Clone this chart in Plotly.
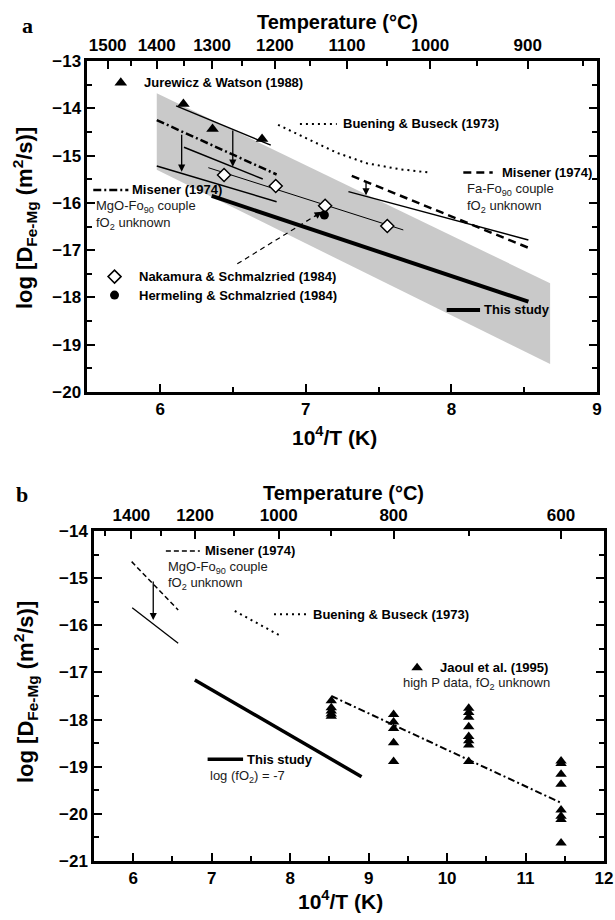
import plotly.graph_objects as go

W, H = 615, 920

# ---------------- Panel a data ----------------
band_x = [5.977, 8.678, 8.678, 5.977]
band_y = [-13.68, -17.70, -19.41, -15.30]

jw_x = [6.16, 6.36, 6.70]
jw_y = [-13.91, -14.44, -14.65]
jw_fit_x = [6.11, 6.76]
jw_fit_y = [-13.95, -14.78]

misA_dd_x = [5.977, 6.80]
misA_dd_y = [-14.25, -15.40]
misA_mid_x = [6.164, 6.705]
misA_mid_y = [-14.825, -15.495]
misA_low_x = [5.977, 6.80]
misA_low_y = [-15.22, -15.975]

nak_fit_x = [6.331, 7.67]
nak_fit_y = [-15.256, -16.573]
nak_x = [6.439, 6.794, 7.133, 7.56]
nak_y = [-15.41, -15.643, -16.06, -16.49]
her_x = [7.128]
her_y = [-16.256]

bbA_x = [6.81, 6.96, 7.213, 7.419, 7.648, 7.854]
bbA_y = [-14.35, -14.565, -14.94, -15.163, -15.29, -15.36]

misFa_dash_x = [7.316, 8.529]
misFa_dash_y = [-15.43, -16.95]
misFa_sol_x = [7.293, 8.529]
misFa_sol_y = [-15.763, -16.784]

studyA_x = [6.354, 8.529]
studyA_y = [-15.854, -18.09]

arrowsA_x = [6.148, 6.499, 7.414]
arrowsA_from = [-14.53, -14.44, -15.53]
arrowsA_to = [-15.34, -15.235, -15.84]

dashArrow_x = [6.53, 7.11]
dashArrow_y = [-17.29, -16.19]

tempA_major = [1500, 1400, 1300, 1200, 1100, 1000, 900]
tempA_minor = [1450, 1350, 1250, 1150, 1050, 950, 850]
yA_ticks = [-20, -19, -18, -17, -16, -15, -14, -13]
xA_ticks = [6, 7, 8, 9]

# ---------------- Panel b data ----------------
misB_dash_x = [5.98, 6.573]
misB_dash_y = [-14.65, -15.676]
misB_sol_x = [5.987, 6.573]
misB_sol_y = [-15.627, -16.382]
arrowsB_x = [6.255]
arrowsB_from = [-15.04]
arrowsB_to = [-15.89]

bbB_x = [7.294, 7.857]
bbB_y = [-15.697, -16.206]

studyB_x = [6.785, 8.91]
studyB_y = [-17.161, -19.212]

jaoul_fit_x = [8.524, 11.45]
jaoul_fit_y = [-17.50, -19.764]

jaoul_T = [900] * 5 + [800] * 5 + [700] * 8 + [600] * 8
jaoul_y = [-17.6, -17.75, -17.82, -17.88, -17.93,
           -17.89, -18.05, -18.19, -18.49, -18.89,
           -17.76, -17.85, -17.95, -18.15, -18.36, -18.45, -18.54, -18.89,
           -18.88, -18.93, -19.16, -19.37, -19.92, -20.05, -20.12, -20.62]

tempB_major = [1400, 1200, 1000, 800, 600]
tempB_minor = [1500, 1300, 1100, 900, 700]
yB_ticks = [-21, -20, -19, -18, -17, -16, -15, -14]
xB_ticks = [6, 7, 8, 9, 10, 11, 12]


def inv_t(tc):
    return 1e4 / (tc + 273.15)


def blabel(v):
    s = ("\u2212" + str(abs(v))) if v < 0 else str(v)
    return "<b>" + s + "</b>"


FONT = "Liberation Sans, Arial, Helvetica, sans-serif"
SERIF = "Liberation Serif, Times New Roman, serif"
BLACK = "black"

fig = go.Figure()

def add_line(x, y, xa, ya, width=1.5, dash="solid"):
    fig.add_trace(go.Scatter(x=x, y=y, mode="lines", xaxis=xa, yaxis=ya,
                             line=dict(color=BLACK, width=width, dash=dash),
                             hoverinfo="skip", showlegend=False))

# ---- panel a ----
fig.add_trace(go.Scatter(x=band_x, y=band_y, fill="toself", mode="lines",
                         fillcolor="#c9c9c9", line=dict(width=0),
                         xaxis="x", yaxis="y", showlegend=False, hoverinfo="skip"))
add_line(jw_fit_x, jw_fit_y, "x", "y", 1.5)
add_line(misA_dd_x, misA_dd_y, "x", "y", 2.5, "8px,3px,2px,3px")
add_line(misA_mid_x, misA_mid_y, "x", "y", 1.5)
add_line(misA_low_x, misA_low_y, "x", "y", 1.5)
add_line(nak_fit_x, nak_fit_y, "x", "y", 1)
add_line(bbA_x, bbA_y, "x", "y", 2, "2px,4px")
add_line(misFa_dash_x, misFa_dash_y, "x", "y", 2.5, "8px,5px")
add_line(misFa_sol_x, misFa_sol_y, "x", "y", 1.5)
add_line(studyA_x, studyA_y, "x", "y", 4)
add_line(dashArrow_x, dashArrow_y, "x", "y", 1.2, "5px,4px")

fig.add_trace(go.Scatter(x=jw_x, y=jw_y, mode="markers", xaxis="x", yaxis="y",
                         marker=dict(symbol="triangle-up", size=11, color=BLACK),
                         showlegend=False))
fig.add_trace(go.Scatter(x=nak_x, y=nak_y, mode="markers", xaxis="x", yaxis="y",
                         marker=dict(symbol="diamond", size=10, color="white",
                                     line=dict(color=BLACK, width=1.5)),
                         showlegend=False))
fig.add_trace(go.Scatter(x=her_x, y=her_y, mode="markers", xaxis="x", yaxis="y",
                         marker=dict(symbol="circle", size=9, color=BLACK),
                         showlegend=False))
# legend markers panel a
fig.add_trace(go.Scatter(x=[5.73], y=[-13.46], mode="markers", xaxis="x", yaxis="y",
                         marker=dict(symbol="triangle-up", size=11, color=BLACK), showlegend=False))
fig.add_trace(go.Scatter(x=[5.687], y=[-17.56], mode="markers", xaxis="x", yaxis="y",
                         marker=dict(symbol="diamond", size=10, color="white",
                                     line=dict(color=BLACK, width=1.5)), showlegend=False))
fig.add_trace(go.Scatter(x=[5.687], y=[-17.95], mode="markers", xaxis="x", yaxis="y",
                         marker=dict(symbol="circle", size=9, color=BLACK), showlegend=False))
fig.add_trace(go.Scatter(x=[None], y=[None], xaxis="x2", yaxis="y", showlegend=False))

# ---- panel b ----
add_line(misB_dash_x, misB_dash_y, "x3", "y3", 1.5, "5px,3px")
add_line(misB_sol_x, misB_sol_y, "x3", "y3", 1.3)
add_line(bbB_x, bbB_y, "x3", "y3", 2, "2px,4px")
add_line(studyB_x, studyB_y, "x3", "y3", 3.5)
add_line(jaoul_fit_x, jaoul_fit_y, "x3", "y3", 2, "7px,3px,2px,3px")
fig.add_trace(go.Scatter(x=[inv_t(t) for t in jaoul_T], y=jaoul_y, mode="markers",
                         xaxis="x3", yaxis="y3",
                         marker=dict(symbol="triangle-up", size=10, color=BLACK),
                         showlegend=False))
fig.add_trace(go.Scatter(x=[9.618], y=[-16.9], mode="markers", xaxis="x3", yaxis="y3",
                         marker=dict(symbol="triangle-up", size=10, color=BLACK), showlegend=False))
fig.add_trace(go.Scatter(x=[None], y=[None], xaxis="x4", yaxis="y3", showlegend=False))

# ---- axes ----
common = dict(showline=True, linewidth=2.5, linecolor=BLACK, ticks="inside",
              tickwidth=2, ticklen=8, tickcolor=BLACK, showgrid=False,
              zeroline=False, automargin=False,
              tickfont=dict(family=FONT, size=17, color=BLACK))
minor_common = dict(ticks="inside", ticklen=5, tickwidth=2, tickcolor=BLACK, showgrid=False)

domA_x = [87.3 / W, 597 / W]
domA_y = [1 - 392 / H, 1 - 61 / H]
domB_x = [94 / W, 604 / W]
domB_y = [1 - 861 / H, 1 - 531 / H]

fig.update_layout(
    xaxis=dict(common, domain=domA_x, range=[5.5, 9], anchor="y",
               tickvals=xA_ticks, ticktext=[blabel(v) for v in xA_ticks],
               minor=dict(minor_common, dtick=0.5, tick0=5.5)),
    xaxis2=dict(common, domain=domA_x, range=[5.5, 9], anchor="y", overlaying="x",
                side="top", tickvals=[inv_t(t) for t in tempA_major],
                ticktext=[blabel(t) for t in tempA_major],
                minor=dict(minor_common, tickvals=[inv_t(t) for t in tempA_minor])),
    yaxis=dict(common, domain=domA_y, range=[-20, -13], anchor="x", mirror="ticks",
               tickvals=yA_ticks, ticktext=[blabel(v) for v in yA_ticks],
               minor=dict(minor_common, dtick=0.5, tick0=0)),
    xaxis3=dict(common, domain=domB_x, range=[5.5, 12], anchor="y3",
                tickvals=xB_ticks, ticktext=[blabel(v) for v in xB_ticks],
                minor=dict(minor_common, dtick=0.5, tick0=5.5)),
    xaxis4=dict(common, domain=domB_x, range=[5.5, 12], anchor="y3", overlaying="x3",
                side="top", tickvals=[inv_t(t) for t in tempB_major],
                ticktext=[blabel(t) for t in tempB_major],
                minor=dict(minor_common, tickvals=[inv_t(t) for t in tempB_minor])),
    yaxis3=dict(common, domain=domB_y, range=[-21, -14], anchor="x3", mirror="ticks",
                tickvals=yB_ticks, ticktext=[blabel(v) for v in yB_ticks],
                minor=dict(minor_common, dtick=0.5, tick0=0)),
)

shapes = []
def legline(x0, x1, y, xr, yr, width, dash):
    shapes.append(dict(type="line", x0=x0, x1=x1, y0=y, y1=y, xref=xr, yref=yr,
                       line=dict(color=BLACK, width=width, dash=dash)))

legline(6.96, 7.213, -14.33, "x", "y", 2, "2px,4px")
legline(5.541, 5.782, -15.727, "x", "y", 2.5, "8px,3px,2px,3px")
legline(8.082, 8.284, -15.36, "x", "y", 2.5, "8px,5px")
legline(7.968, 8.197, -18.264, "x", "y", 4, "solid")
legline(6.416, 6.849, -14.424, "x3", "y3", 1.5, "5px,3px")
legline(7.794, 8.206, -15.767, "x3", "y3", 2, "2px,4px")
legline(6.948, 7.40, -18.843, "x3", "y3", 3.5, "solid")

annots = []
def txt(x, y, s, xr, yr, bold=True, size=13):
    annots.append(dict(x=x, y=y, xref=xr, yref=yr,
                       text=("<b>" + s + "</b>") if bold else s, showarrow=False,
                       xanchor="left", yanchor="middle",
                       font=dict(family=FONT, size=size, color=BLACK if bold else "#1a1a1a")))

txt(5.874, -13.46, "Jurewicz & Watson (1988)", "x", "y")
txt(7.24, -14.33, "Buening & Buseck (1973)", "x", "y")
txt(5.793, -15.727, "Misener (1974)", "x", "y")
txt(5.546, -16.08, "MgO-Fo<sub>90</sub> couple", "x", "y", False)
txt(5.546, -16.43, "fO<sub>2</sub> unknown", "x", "y", False)
txt(8.334, -15.36, "Misener (1974)", "x", "y")
txt(8.094, -15.727, "Fa-Fo<sub>90</sub> couple", "x", "y", False)
txt(8.094, -16.08, "fO<sub>2</sub> unknown", "x", "y", False)
txt(5.838, -17.56, "Nakamura & Schmalzried (1984)", "x", "y")
txt(5.838, -17.95, "Hermeling & Schmalzried (1984)", "x", "y")
txt(8.209, -18.264, "This study", "x", "y")

txt(6.89, -14.424, "Misener (1974)", "x3", "y3")
txt(6.416, -14.77, "MgO-Fo<sub>90</sub> couple", "x3", "y3", False)
txt(6.416, -15.11, "fO<sub>2</sub> unknown", "x3", "y3", False)
txt(8.27, -15.767, "Buening & Buseck (1973)", "x3", "y3")
txt(9.88, -16.9, "Jaoul et al. (1995)", "x3", "y3")
txt(9.415, -17.23, "high P data, fO<sub>2</sub> unknown", "x3", "y3", False)
txt(7.42, -18.843, "This study", "x3", "y3")
txt(6.948, -19.197, "log (fO<sub>2</sub>) = -7", "x3", "y3", False)

def arrow(x, y0, y1, xr, yr, x0=None):
    annots.append(dict(x=x, y=y1, ax=x if x0 is None else x0, ay=y0, xref=xr, yref=yr,
                       axref=xr, ayref=yr, text="", showarrow=True, arrowhead=2,
                       arrowsize=1.1, arrowwidth=1.3, arrowcolor=BLACK, standoff=0))

for xv, a, b in zip(arrowsA_x, arrowsA_from, arrowsA_to):
    arrow(xv, a, b, "x", "y")
for xv, a, b in zip(arrowsB_x, arrowsB_from, arrowsB_to):
    arrow(xv, a, b, "x3", "y3")
tx = dashArrow_x[1] - 0.1 * (dashArrow_x[1] - dashArrow_x[0])
ty = dashArrow_y[1] - 0.1 * (dashArrow_y[1] - dashArrow_y[0])
arrow(dashArrow_x[1], ty, dashArrow_y[1], "x", "y", x0=tx)

def ptxt(x, y, s, size, family=FONT, angle=0):
    annots.append(dict(x=x / W, y=1 - y / H, xref="paper", yref="paper",
                       text="<b>" + s + "</b>",
                       showarrow=False, xanchor="center", yanchor="middle", textangle=angle,
                       font=dict(family=family, size=size, color=BLACK)))

ptxt(27, 26, "a", 22, SERIF)
ptxt(337, 22, "Temperature (°C)", 20)
ptxt(334, 436, "10<sup>4</sup>/T (K)", 21)
ptxt(25, 218, "log [D<sub>Fe-Mg</sub> (m<sup>2</sup>/s)]", 22, angle=-90)

ptxt(22, 495, "b", 22, SERIF)
ptxt(343, 493, "Temperature (°C)", 20)
ptxt(340, 900, "10<sup>4</sup>/T (K)", 21)
ptxt(25, 692, "log [D<sub>Fe-Mg</sub> (m<sup>2</sup>/s)]", 22, angle=-90)

fig.update_layout(width=W, height=H, margin=dict(l=0, r=0, t=0, b=0),
                  paper_bgcolor="white", plot_bgcolor="rgba(0,0,0,0)",
                  showlegend=False, template="none",
                  shapes=shapes, annotations=annots)

fig.write_html("out.html",
               config={"displayModeBar": False},
               post_script="document.body.style.margin='0';"
                           "document.body.style.padding='0';"
                           "document.body.style.overflow='hidden';")
